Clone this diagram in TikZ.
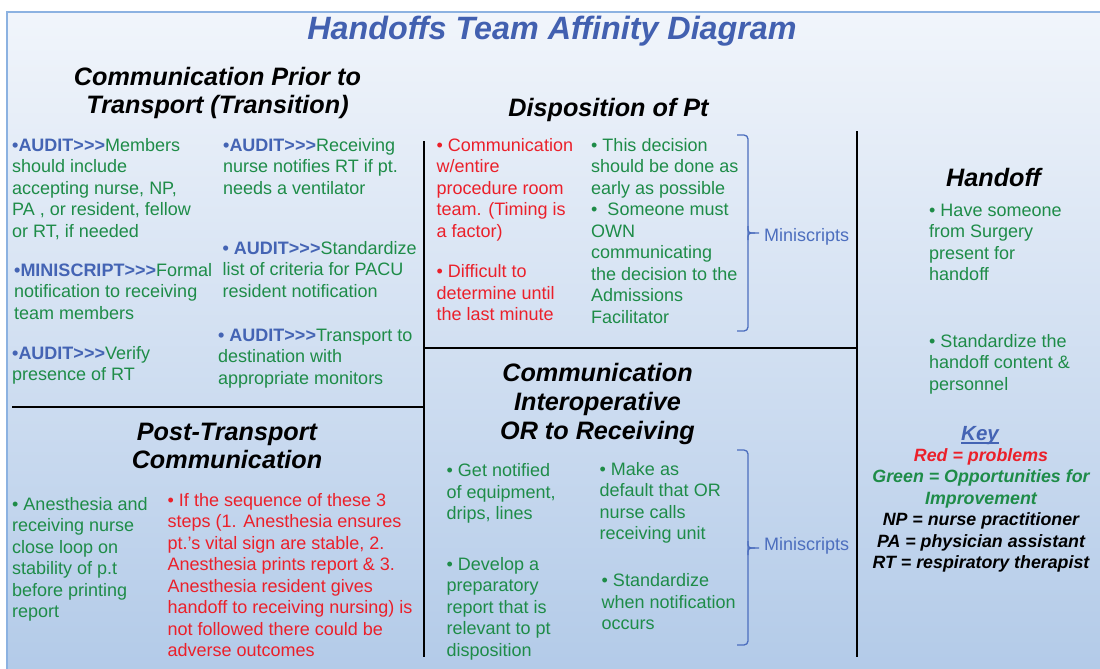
\documentclass[tikz,border=0pt]{standalone}
\usepackage{fontspec}
\setmainfont{Liberation Sans}
\definecolor{grn}{RGB}{30,140,72}
\definecolor{rd}{RGB}{235,32,42}
\definecolor{blu}{RGB}{68,100,180}
\definecolor{ttl}{RGB}{66,96,176}
\definecolor{mini}{RGB}{76,110,190}
\definecolor{frm}{RGB}{140,178,225}
\definecolor{bgtop}{RGB}{241,245,251}
\definecolor{bgbot}{RGB}{178,202,232}
\newcommand\fl{\rule{0pt}{13pt}}
\newcommand\hl{\rule{0pt}{18.5pt}}
\newcommand\grr{>\kern0pt>\kern0pt>}
\newcommand\au[1]{\textcolor{blu}{\bfseries #1}}
\begin{document}
\begin{tikzpicture}[x=1pt,y=-1pt,
  body/.style={anchor=north west,inner sep=0pt,align=left,font=\fontsize{18}{21.5}\selectfont,text=grn},
  redtxt/.style={body,text=rd},
  hdr/.style={inner sep=0pt,align=center,font=\fontsize{25.2}{28}\selectfont\bfseries\itshape,text=black},
  divider/.style={draw=black,line width=1.1pt},
  bracket/.style={draw=mini,line width=1.3pt,rounded corners=4pt},
  minilabel/.style={anchor=base west,inner sep=0pt,font=\fontsize{18}{21.5}\selectfont,text=mini},
  keytxt/.style={anchor=north,inner sep=0pt,align=center,font=\fontsize{17.8}{21.5}\selectfont\bfseries\itshape}]
\useasboundingbox (0,0) rectangle (1100,669);
\fill[white] (0,0) rectangle (1100,669);
\shade[top color=bgtop,bottom color=bgbot] (7,12) rectangle (1110,680);
\draw[frm,line width=2pt] (1110,12) -- (7,12) -- (7,680);

% title
\node[anchor=base,inner sep=0pt,font=\fontsize{32.3}{38}\selectfont\bfseries\itshape,text=ttl] (title) at (552,40) {Handoffs Team Affinity Diagram};

% dividers
\coordinate (v1t) at (424,141);
\coordinate (v1b) at (424,657);
\coordinate (v2t) at (857,131);
\coordinate (v2b) at (857,657);
\coordinate (h1l) at (12,407);
\coordinate (h1r) at (424,407);
\coordinate (h2l) at (424,348);
\coordinate (h2r) at (857,348);
\draw[divider] (v1t) -- (v1b);
\draw[divider] (v2t) -- (v2b);
\draw[divider] (h1l) -- (h1r);
\draw[divider] (h2l) -- (h2r);

% Communication prior to transport
\node[hdr,anchor=north] (hprior) at (217.5,66.5) {\hl Communication Prior to\\Transport (Transition)};
\node[body] (pa) at (12,138) {\fl\au{•AUDIT\grr}Members\\should include\\accepting nurse, NP,\\PA , or resident, fellow\\or RT, if needed};
\node[body] (pb) at (14,263) {\fl\au{•MINISCRIPT\grr}Formal\\notification to receiving\\team members};
\node[body] (pc) at (12,346) {\fl\au{•AUDIT\grr}Verify\\presence of RT};
\node[body] (pd) at (223,138) {\fl\au{•AUDIT\grr}Receiving\\nurse notifies RT if pt.\\needs a ventilator};
\node[body] (pe) at (222.5,241) {\fl\au{• AUDIT\grr}Standardize\\list of criteria for PACU\\resident notification};
\node[body] (pf) at (218,328) {\fl\au{• AUDIT\grr}Transport to\\destination with\\appropriate monitors};

% Disposition of Pt
\node[hdr,anchor=base] (hdisp) at (608.5,116.7) {Disposition of Pt};
\node[redtxt] (da) at (436.5,138) {\fl• Communication\\w/entire\\procedure room\\team. (Timing is\\a factor)};
\node[redtxt] (db) at (436.5,264.5) {\fl• Difficult to\\determine until\\the last minute};
\node[body] (dc) at (591,138) {\fl• This decision\\should be done as\\early as possible\\•~~Someone must\\OWN\\communicating\\the decision to the\\Admissions\\Facilitator};
\draw[bracket] (737,135) -- (748,135) -- (748,331) -- (737,331);
\draw[draw=mini,line width=1.3pt] (748,226) .. controls (748,233) .. (755,233) -- (759,233);
\draw[draw=mini,line width=1.3pt] (748,240) .. controls (748,233) .. (755,233);
\node[minilabel] (mini1) at (764,241.5) {Miniscripts};

% Handoff
\node[hdr,anchor=base] (hhand) at (993.5,186.7) {Handoff};
\node[body] (ha) at (929,203) {\fl• Have someone\\from Surgery\\present for\\handoff};
\node[body] (hb) at (929,334) {\fl• Standardize the\\handoff content \&\\personnel};

% Post-transport
\node[hdr,anchor=north] (hpost) at (227,421.5) {\hl Post-Transport\\Communication};
\node[body] (ta) at (12,497) {\fl• Anesthesia and\\receiving nurse\\close loop on\\stability of p.t\\before printing\\report};
\node[redtxt] (tb) at (167.5,493) {\fl• If the sequence of these 3\\steps (1. Anesthesia ensures\\pt.’s vital sign are stable, 2.\\Anesthesia prints report \& 3.\\Anesthesia resident gives\\handoff to receiving nursing) is\\not followed there could be\\adverse outcomes};

% Interoperative
\node[hdr,anchor=north,font=\fontsize{25.2}{29}\selectfont\bfseries\itshape] (hint) at (597.5,363) {\hl Communication\\Interoperative\\OR to Receiving};
\node[body] (ia) at (446.5,463.5) {\fl• Get notified\\of equipment,\\drips, lines};
\node[body] (ib) at (446.5,557) {\fl• Develop a\\preparatory\\report that is\\relevant to pt\\disposition};
\node[body] (ic) at (599.5,462) {\fl• Make as\\default that OR\\nurse calls\\receiving unit};
\node[body] (id) at (601.5,573.5) {\fl• Standardize\\when notification\\occurs};
\draw[bracket] (737,450) -- (748,450) -- (748,645) -- (737,645);
\draw[draw=mini,line width=1.3pt] (748,541) .. controls (748,548) .. (755,548) -- (759,548);
\draw[draw=mini,line width=1.3pt] (748,555) .. controls (748,548) .. (755,548);
\node[minilabel] (mini2) at (764,550) {Miniscripts};

% Key
\node[anchor=base,inner sep=0pt,font=\fontsize{20.5}{24}\selectfont\bfseries\itshape,text=blu] (keyt) at (980,440) {Key};
\draw[blu,line width=1.1pt] ([yshift=-3pt]keyt.base west) -- ([yshift=-3pt]keyt.base east);
\node[keytxt] (keyb) at (981,448) {\fl\textcolor{rd}{Red = problems}\\\textcolor{grn}{Green = Opportunities for}\\\textcolor{grn}{Improvement}\\NP = nurse practitioner\\PA = physician assistant\\RT = respiratory therapist};
\end{tikzpicture}
\end{document}
